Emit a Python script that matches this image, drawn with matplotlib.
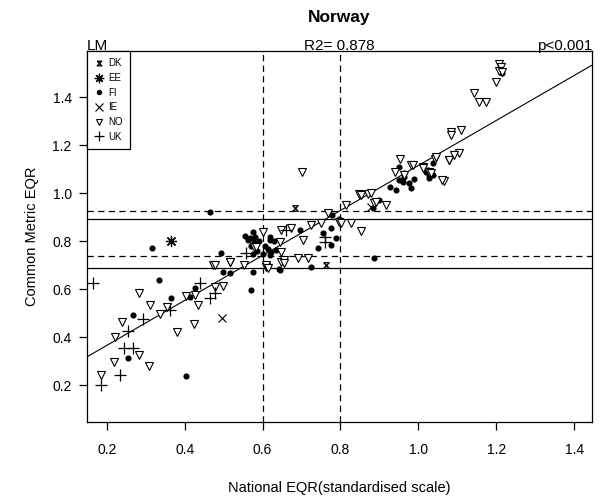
import matplotlib.pyplot as plt
from matplotlib.path import Path

plt.rcParams['font.family'] = ['Liberation Sans', 'DejaVu Sans']

# national EQR (x) vs common metric EQR (y), one pair of lists per country
dk_x = [0.682, 0.763]
dk_y = [0.936, 0.700]

ee_x = [0.364]
ee_y = [0.800]

fi_x = [0.315, 0.333, 0.366, 0.267, 0.255, 0.403, 0.571, 0.426, 0.413, 0.494,
        0.515, 0.575, 0.641, 0.464, 0.567, 0.579, 0.644, 0.887, 0.725, 0.742,
        0.776, 0.789, 0.755, 0.695, 0.618, 0.622, 0.570, 0.585, 0.600, 0.615,
        0.575, 0.590, 0.926, 0.943, 0.951, 0.951, 0.964, 1.020, 1.028, 1.037,
        0.900, 0.883, 0.797, 0.779, 0.776, 1.024, 1.037, 1.028, 0.964, 0.960,
        1.216, 0.575, 0.562, 0.618, 0.635, 0.618, 0.498, 0.555, 0.605, 0.630,
        0.580, 0.975, 0.990, 0.980]
fi_y = [0.770, 0.637, 0.561, 0.492, 0.311, 0.239, 0.596, 0.603, 0.568, 0.749,
        0.665, 0.672, 0.682, 0.922, 0.811, 0.797, 0.679, 0.728, 0.693, 0.770,
        0.783, 0.811, 0.832, 0.846, 0.804, 0.755, 0.780, 0.760, 0.745, 0.765,
        0.745, 0.800, 1.026, 1.012, 1.054, 1.110, 1.082, 1.089, 1.075, 1.124,
        0.971, 0.936, 0.894, 0.908, 0.853, 1.096, 1.075, 1.061, 1.068, 1.047,
        1.499, 0.839, 0.804, 0.818, 0.762, 0.742, 0.672, 0.820, 0.780, 0.800,
        0.815, 1.040, 1.060, 1.020]

ie_x = [0.497, 0.878]
ie_y = [0.478, 0.940]

no_x = [0.184, 0.218, 0.220, 0.240, 0.283, 0.310, 0.336, 0.355, 0.283, 0.308,
        0.379, 0.424, 0.434, 0.403, 0.426, 0.477, 0.498, 0.473, 0.515, 0.551,
        0.609, 0.579,
        0.601, 0.644, 0.648, 0.674, 0.703, 0.725, 0.749, 0.767, 0.797, 0.802,
        0.827, 0.853, 0.815, 0.847, 0.870, 0.887, 0.917, 0.690, 0.716, 0.648,
        0.610, 0.656, 0.648, 0.584, 0.614, 0.477, 0.515, 0.656, 0.700, 0.879,
        0.853, 0.891,
        0.954, 0.981, 0.941, 0.962, 1.044, 1.078, 1.011, 1.028, 1.067, 1.062,
        1.105, 1.092, 1.079, 1.045, 0.985, 1.011, 1.033,
        1.206, 1.212, 1.208, 1.216, 1.199, 1.144, 1.156, 1.174, 1.084, 1.084,
        1.110]
no_y = [0.242, 0.297, 0.399, 0.464, 0.582, 0.533, 0.495, 0.524, 0.325, 0.280,
        0.422, 0.453, 0.533, 0.572, 0.575, 0.607, 0.612, 0.700, 0.711, 0.700,
        0.693, 0.776,
        0.839, 0.797, 0.846, 0.853, 0.804, 0.867, 0.874, 0.918, 0.880, 0.874,
        0.874, 0.843, 0.950, 0.996, 0.996, 0.960, 0.950, 0.728, 0.728, 0.714,
        0.700, 0.721, 0.755, 0.776, 0.686, 0.700, 0.714, 0.707, 1.087, 0.999,
        0.992, 0.964,
        1.144, 1.117, 1.086, 1.075, 1.144, 1.137, 1.110, 1.089, 1.051, 1.054,
        1.168, 1.158, 1.137, 1.151, 1.117, 1.103, 1.082,
        1.537, 1.526, 1.510, 1.505, 1.461, 1.415, 1.380, 1.380, 1.255, 1.242,
        1.262]

uk_x = [0.165, 0.186, 0.233, 0.244, 0.267, 0.255, 0.293, 0.362, 0.438, 0.464,
        0.477, 0.558, 0.759, 0.759, 0.660]
uk_y = [0.626, 0.200, 0.242, 0.353, 0.353, 0.426, 0.477, 0.513, 0.624, 0.561,
        0.582, 0.749, 0.818, 0.797, 0.846]

# fitted linear model and class boundaries
lm_intercept = 0.178
lm_slope = 0.937
x_bounds = [0.6, 0.8]
y_solid = [0.689, 0.894]
y_dashed = [0.7375, 0.926]

xticks = [0.2, 0.4, 0.6, 0.8, 1.0, 1.2, 1.4]
yticks = [0.2, 0.4, 0.6, 0.8, 1.0, 1.2, 1.4]

# hourglass symbol for DK
hourglass = Path([(-1, 1), (1, 1), (-1, -1), (1, -1), (-1, 1)],
                 [Path.MOVETO, Path.LINETO, Path.LINETO, Path.LINETO, Path.LINETO])

fig = plt.figure(figsize=(6.12, 5.01), dpi=100)
ax = fig.add_axes([87/612, 1 - 422/501, 505/612, 371/501])
ax.set_xlim(0.149, 1.446)
ax.set_ylim(0.046, 1.592)

dash = (0, (5, 3.5))
for xb in x_bounds:
    ax.axvline(xb, color='black', lw=0.9, ls=dash)
for yb in y_dashed:
    ax.axhline(yb, color='black', lw=0.9, ls=dash)
for yb in y_solid:
    ax.axhline(yb, color='black', lw=0.9)

x0, x1 = ax.get_xlim()
ax.plot([x0, x1], [lm_intercept + lm_slope * x0, lm_intercept + lm_slope * x1],
        color='black', lw=0.8)

k = dict(ls='none', color='black')
ax.plot(dk_x, dk_y, marker=hourglass, ms=4, mfc='none', mew=0.9, label='DK', **k)
ax.plot(ee_x, ee_y, marker=(8, 2, 0), ms=8, mew=0.9, label='EE', **k)
ax.plot(fi_x, fi_y, marker='o', ms=3.4, label='FI', **k)
ax.plot(ie_x, ie_y, marker='x', ms=6, mew=0.8, label='IE', **k)
ax.plot(no_x, no_y, marker='v', ms=5.6, mfc='white', mew=0.8, label='NO', **k)
ax.plot(uk_x, uk_y, marker='+', ms=8.5, mew=0.9, label='UK', **k)

leg = ax.legend(loc='upper left', bbox_to_anchor=(0, 1), borderaxespad=0,
                fontsize=7, fancybox=False, edgecolor='black', framealpha=1,
                handlelength=0.9, handletextpad=0.5, labelspacing=0.48,
                borderpad=0.75, markerscale=0.85)
leg.get_frame().set_linewidth(0.9)

ax.set_xticks(xticks)
ax.set_yticks(yticks)
ax.set_xticklabels([f'{t:.1f}' for t in xticks])
ax.set_yticklabels([f'{t:.1f}' for t in yticks])
ax.tick_params(direction='out', length=6, width=0.9, labelsize=10)
ax.tick_params(axis='x', pad=9)
ax.tick_params(axis='y', pad=5)
for s in ax.spines.values():
    s.set_linewidth(0.9)

ax.set_xlabel('National EQR(standardised scale)', fontsize=10.5)
ax.set_ylabel('Common Metric EQR', fontsize=10.5)
ax.xaxis.set_label_coords(0.5, -0.16)
ax.yaxis.set_label_coords(-0.095, 0.5)

ax.text(0.5, 1.089, 'Norway', transform=ax.transAxes, ha='center', va='center',
        fontsize=12.5, fontweight='bold')
ax.text(0.0, 1.003, 'LM', transform=ax.transAxes, ha='left', va='baseline', fontsize=11)
ax.text(0.5, 1.003, 'R2= 0.878', transform=ax.transAxes, ha='center', va='baseline', fontsize=11)
ax.text(1.0, 1.003, 'p<0.001', transform=ax.transAxes, ha='right', va='baseline', fontsize=11)

fig.savefig('out.png', dpi=100)
